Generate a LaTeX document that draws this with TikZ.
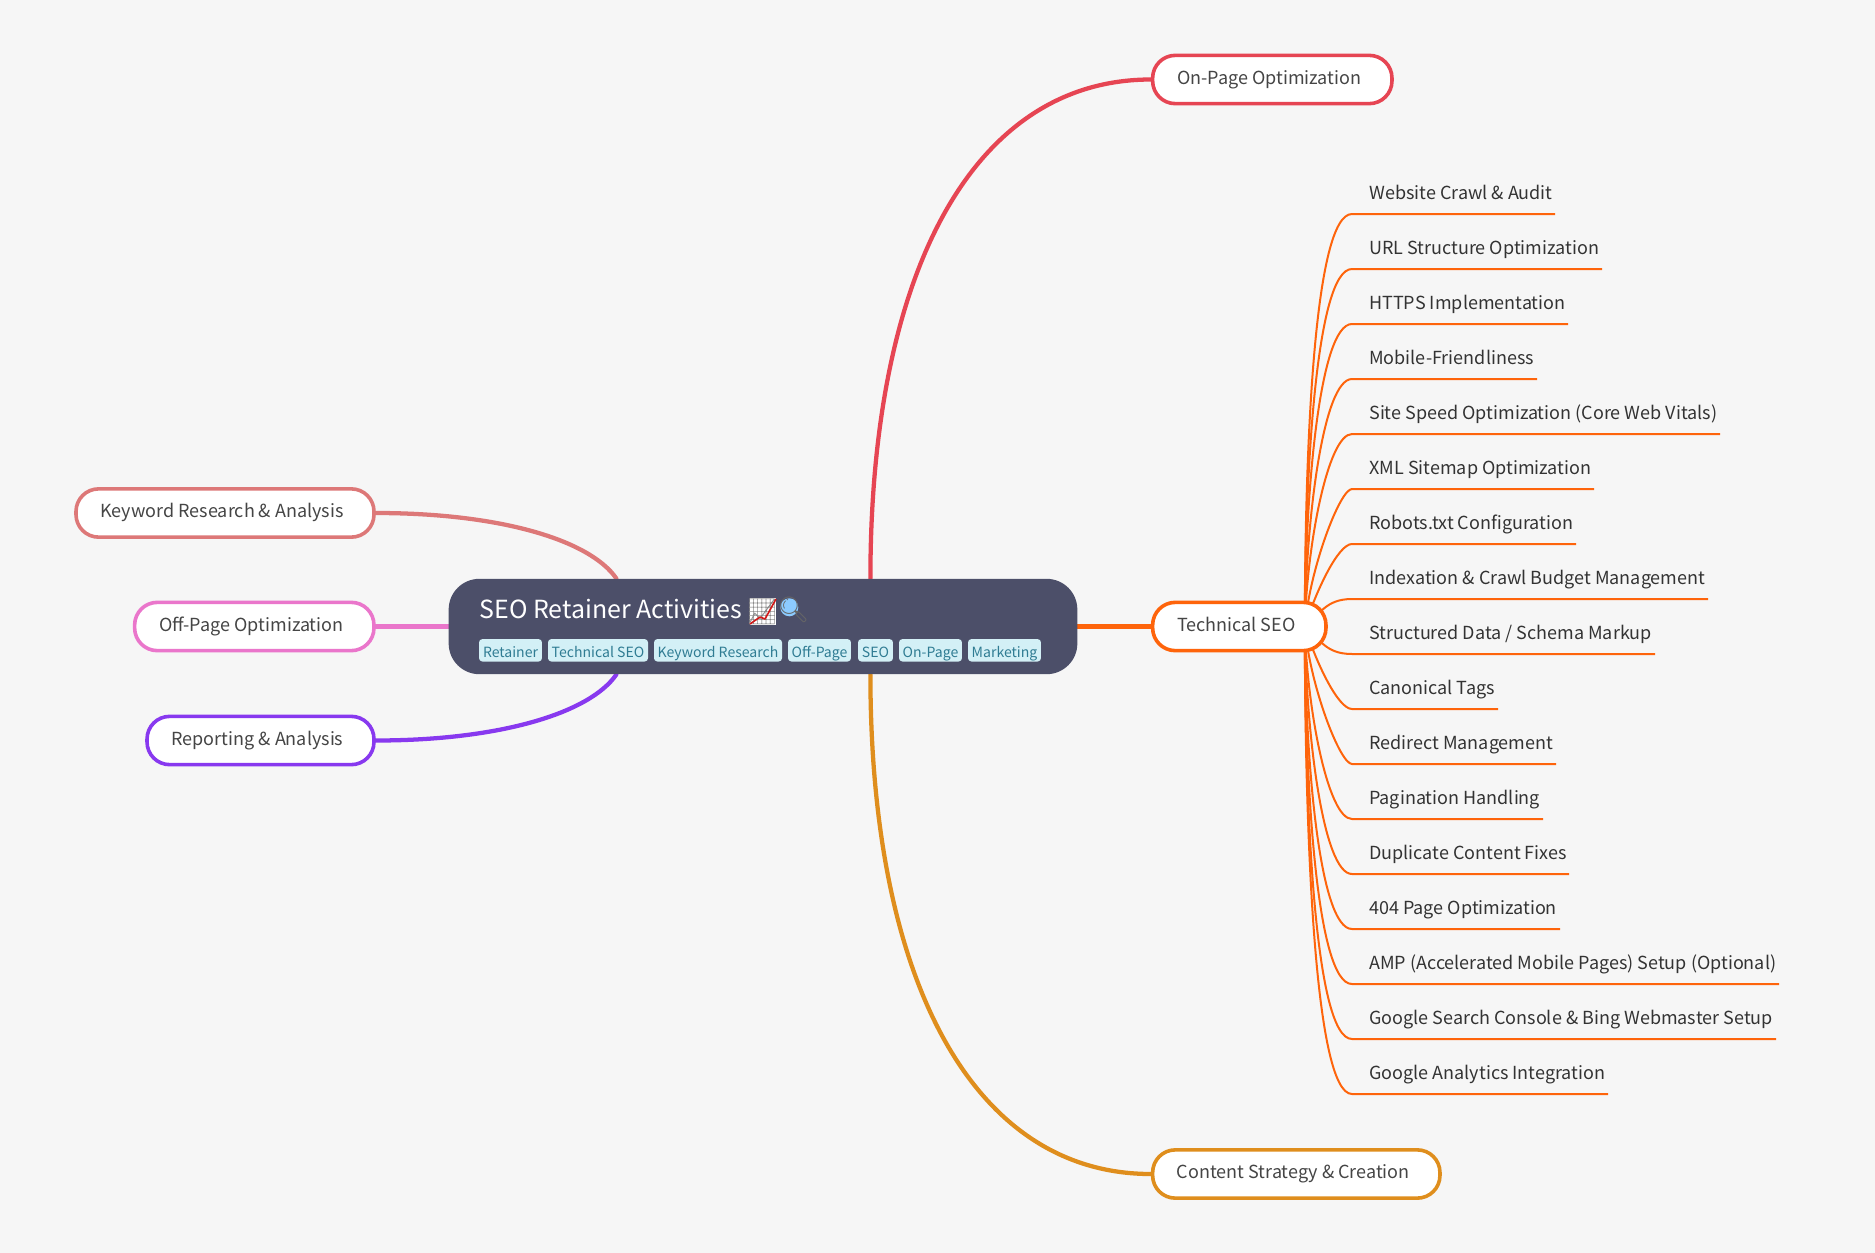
\documentclass[tikz,border=0pt]{standalone}
\usepackage{fontspec}
\setmainfont{Noto Sans CJK SC}
\newfontfamily\emojifont{Noto Emoji}
\usetikzlibrary{calc}
\definecolor{bgc}{HTML}{F6F6F6}
\definecolor{rootc}{HTML}{4C4F69}
\definecolor{maroonc}{HTML}{E64553}
\definecolor{peachc}{HTML}{FE640B}
\definecolor{yellowc}{HTML}{DF8E1D}
\definecolor{flamc}{HTML}{DD7878}
\definecolor{pinkc}{HTML}{EA76CB}
\definecolor{mauvec}{HTML}{8839EF}
\definecolor{tagbg}{HTML}{D3F0F6}
\definecolor{tagtx}{HTML}{2F7C93}
\pgfdeclarelayer{back}
\pgfdeclarelayer{bg}
\pgfsetlayers{back,bg,main}
\tikzset{
  topic/.style={draw=#1,line width=2.7pt,fill=white,rounded corners=17pt,minimum height=36.2pt,inner sep=0pt,
    text=black!73,font=\fontsize{13.5pt}{17pt}\selectfont,text height=10pt,text depth=3.2pt,
    execute at end node=\hspace*{4.5pt}},
  branch/.style={draw=#1,line width=3.2pt,line cap=round},
  leafline/.style={draw=peachc,line width=1.5pt},
  leaftext/.style={anchor=base west,inner sep=0pt,text=black!80,font=\fontsize{13.5pt}{17pt}\selectfont},
  tagnode/.style={fill=tagbg,rounded corners=2.5pt,inner sep=0pt,minimum height=16.8pt,text=tagtx,
    text height=10.4pt,text depth=0pt,font=\fontsize{10.55pt}{13pt}\selectfont},
}
% id, y, end x, first control x, second control x, text
\newcommand{\leaf}[6]{%
  \coordinate (#1s) at (1352,#2);
  \coordinate (#1e) at (#3,#2);
  \node[leaftext] (#1) at (1369,#2-14.5) {#6};
  \pgfmathsetmacro{\pa}{#2+(627-#2)*0.57}
  \begin{pgfonlayer}{bg}
    \draw[leafline] ($(tech.east)+(-23,0)$) .. controls (#4,\pa) and (#5,#2) .. (#1s) -- (#1e);
  \end{pgfonlayer}
}
\begin{document}
\begin{tikzpicture}[x=0.75pt,y=-0.75pt]
\useasboundingbox (0,0) rectangle (1875,1253);
\begin{pgfonlayer}{back}
\fill[bgc] (0,0) rectangle (1875,1253);
\end{pgfonlayer}
\node[fill=rootc,rounded corners=23pt,minimum width=471.5pt,minimum height=71.5pt,inner sep=0pt] (root) at (763,626.5) {};
\node[anchor=base west,inner sep=0pt,text=white,font=\fontsize{18.7pt}{22pt}\selectfont] (title) at (479.5,618) {SEO Retainer Activities};
\fill[white] (750,598) rectangle (776,625);
\node[anchor=base west,inner sep=0pt,text=black!45,font=\emojifont\fontsize{19pt}{22pt}\selectfont] (em) at (745.5,620) {📈};
\draw[red!80!black!90,line width=1.2pt,line join=round] (750,624) -- (760,617) -- (765,619) -- (776,599);
\fill[blue!45!cyan!45!white] (789.3,607.3) circle (9);
\node[anchor=base west,inner sep=0pt,text=black!60,font=\emojifont\fontsize{19pt}{22pt}\selectfont] (em2) at (777,618) {🔍};
\node[tagnode,minimum width=47.2pt] (t1) at (510.5,650.3) {Retainer};
\node[tagnode,minimum width=75pt] (t2) at (598,650.3) {Technical SEO};
\node[tagnode,minimum width=96pt] (t3) at (718,650.3) {Keyword Research};
\node[tagnode,minimum width=47.2pt] (t4) at (819.5,650.3) {Off-Page};
\node[tagnode,minimum width=26.2pt] (t5) at (875.5,650.3) {SEO};
\node[tagnode,minimum width=47.2pt] (t6) at (930.5,650.3) {On-Page};
\node[tagnode,minimum width=54.7pt] (t7) at (1004.5,650.3) {Marketing};

\node[topic=maroonc,minimum width=179.5pt] (onpage) at (1272.3,79.5) {On-Page Optimization};
\node[topic=peachc,minimum width=130pt] (tech) at (1239.3,626.5) {Technical SEO};
\node[topic=yellowc,minimum width=215.5pt] (content) at (1296.3,1174) {Content Strategy \& Creation};
\node[topic=flamc,minimum width=223.5pt] (kw) at (225,513) {Keyword Research \& Analysis};
\node[topic=pinkc,minimum width=179.5pt] (off) at (254.3,626.5) {Off-Page Optimization};
\node[topic=mauvec,minimum width=170.2pt] (rep) at (260.5,740.5) {Reporting \& Analysis};

\begin{pgfonlayer}{bg}
\draw[branch=maroonc] ($(root.north west)+(422,0)$) .. controls +(0,-310) and (975,79.5) .. (onpage.west);
\draw[branch=yellowc] ($(root.south west)+(422,0)$) .. controls +(0,310) and (975,1174) .. (content.west);
\draw[branch=peachc] (root.east) -- (tech.west);
\draw[branch=pinkc] (off.east) -- (root.west);
\draw[branch=flamc] (kw.east) .. controls (500,513) and (590,540) .. ($(root.north west)+(168,0)$);
\draw[branch=mauvec] (rep.east) .. controls (500,740.5) and (590,713) .. ($(root.south west)+(168,0)$);
\end{pgfonlayer}

\leaf{a}{214}{1555}{1305}{1314}{Website Crawl \& Audit}
\leaf{b}{269}{1602}{1305}{1316}{URL Structure Optimization}
\leaf{c}{324}{1568}{1305}{1319}{HTTPS Implementation}
\leaf{d}{379}{1537}{1306}{1323}{Mobile-Friendliness}
\leaf{e}{434}{1720}{1307}{1328}{Site Speed Optimization (Core Web Vitals)}
\leaf{f}{489}{1594}{1310}{1340}{XML Sitemap Optimization}
\leaf{g}{544}{1576}{1316}{1338}{Robots.txt Configuration}
\leaf{h}{599}{1708}{1320}{1325}{Indexation \& Crawl Budget Management}
\leaf{i}{654}{1655}{1320}{1325}{Structured Data / Schema Markup}
\leaf{j}{709}{1498}{1316}{1338}{Canonical Tags}
\leaf{k}{764}{1556}{1310}{1340}{Redirect Management}
\leaf{l}{819}{1543}{1307}{1328}{Pagination Handling}
\leaf{m}{874}{1569}{1306}{1323}{Duplicate Content Fixes}
\leaf{n}{929}{1560}{1305}{1319}{404 Page Optimization}
\leaf{o}{984}{1779}{1305}{1316}{AMP (Accelerated Mobile Pages) Setup (Optional)}
\leaf{p}{1039}{1776}{1305}{1314}{Google Search Console \& Bing Webmaster Setup}
\leaf{q}{1094}{1608}{1305}{1314}{Google Analytics Integration}
\end{tikzpicture}
\end{document}
